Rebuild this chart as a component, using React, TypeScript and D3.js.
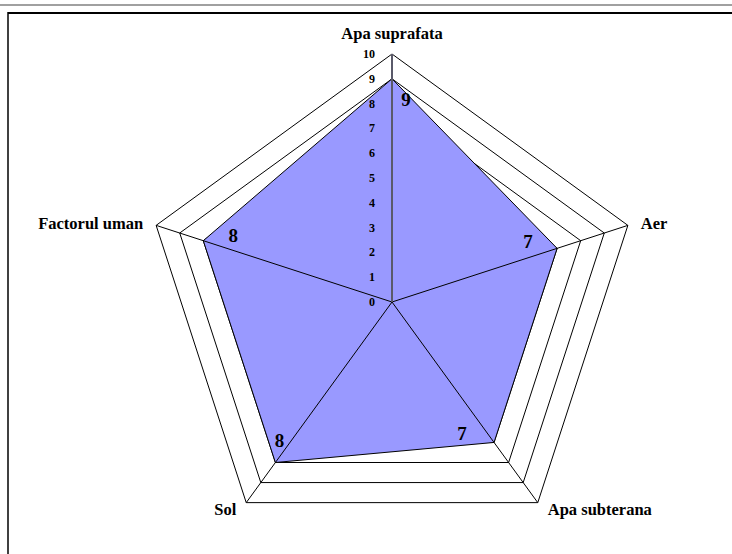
import React from "react";
import * as d3 from "d3";

const categories = ["Apa suprafata", "Aer", "Apa subterana", "Sol", "Factorul uman"];
const values = [9, 7, 7, 8, 8];
const ticks = [0, 1, 2, 3, 4, 5, 6, 7, 8, 9, 10];
// nudges of the data labels relative to their point (pixels)
const labelNudgeX = [14, -29, -32, 4, 30];
const labelNudgeY = [21, -7, -9, -22, -5];

const W = 732;
const H = 554;
const cx = 392;
const cy = 302;
const R = 248;
const FONT = "'Liberation Serif', 'Times New Roman', serif";

export default function App() {
  const r = d3.scaleLinear().domain([0, 10]).range([0, R]);
  const n = categories.length;
  const angle = (i: number) => (i * 2 * Math.PI) / n;
  const px = (i: number, v: number) => cx + r(v) * Math.sin(angle(i));
  const py = (i: number, v: number) => cy - r(v) * Math.cos(angle(i));

  const radial = d3
    .lineRadial<number>()
    .angle((_d, i) => angle(i))
    .radius((d) => r(d))
    .curve(d3.curveLinearClosed);

  const gridLevels = ticks.filter((t) => t > 0);

  return (
    <svg
      width={W}
      height={H}
      style={{ position: "absolute", left: 0, top: 0, background: "#fff" }}
      fontFamily={FONT}
    >
      {/* frame */}
      <line x1={0} x2={W} y1={5} y2={5} stroke="#808080" strokeWidth={1.5} />
      <line x1={8} x2={W} y1={13} y2={13} stroke="#000" strokeWidth={2} />
      <line x1={8} x2={8} y1={12} y2={H} stroke="#000" strokeWidth={1.5} />

      <g transform={`translate(${cx},${cy})`}>
        {gridLevels.map((lv) => (
          <path
            key={lv}
            d={radial(categories.map(() => lv)) || ""}
            fill="none"
            stroke="#000"
            strokeWidth={1}
          />
        ))}
        <path
          d={radial(values) || ""}
          fill="#9999FF"
          stroke="#000"
          strokeWidth={1}
        />
      </g>

      {/* spokes */}
      {categories.map((c, i) =>
        i === 0 ? null : (
          <line
            key={c}
            x1={cx}
            y1={cy}
            x2={px(i, 10)}
            y2={py(i, 10)}
            stroke="#000"
            strokeWidth={1}
          />
        )
      )}
      {/* value axis */}
      <line x1={cx} y1={cy} x2={px(0, 10)} y2={py(0, 10)} stroke="#5a5a6a" strokeWidth={2} />

      {/* tick labels */}
      {ticks.map((t) => (
        <text
          key={t}
          x={cx - 17}
          y={cy - r(t)}
          textAnchor="end"
          dominantBaseline="central"
          fontSize={12}
          fontWeight="bold"
          fill="#000"
        >
          {t}
        </text>
      ))}

      {/* category labels */}
      {categories.map((c, i) => {
        const vx = px(i, 10);
        const vy = py(i, 10);
        const s = Math.sin(angle(i));
        const co = Math.cos(angle(i));
        let x = vx;
        let y = vy;
        let anchor: "start" | "middle" | "end" = "middle";
        if (Math.abs(s) < 1e-6) {
          y = vy - 21;
        } else {
          anchor = s > 0 ? "start" : "end";
          x = vx + (s > 0 ? 1 : -1) * (co > 0 ? 13 : 10);
          y = vy + (co > 0 ? -2 : 7);
        }
        return (
          <text
            key={c}
            x={x}
            y={y}
            textAnchor={anchor}
            dominantBaseline="central"
            fontSize={16.5}
            fontWeight="bold"
            fill="#000"
          >
            {c}
          </text>
        );
      })}

      {/* data labels */}
      {values.map((v, i) => (
        <text
          key={i}
          x={px(i, v) + labelNudgeX[i]}
          y={py(i, v) + labelNudgeY[i]}
          textAnchor="middle"
          dominantBaseline="central"
          fontSize={19}
          fontWeight="bold"
          fill="#000"
        >
          {v}
        </text>
      ))}
    </svg>
  );
}
